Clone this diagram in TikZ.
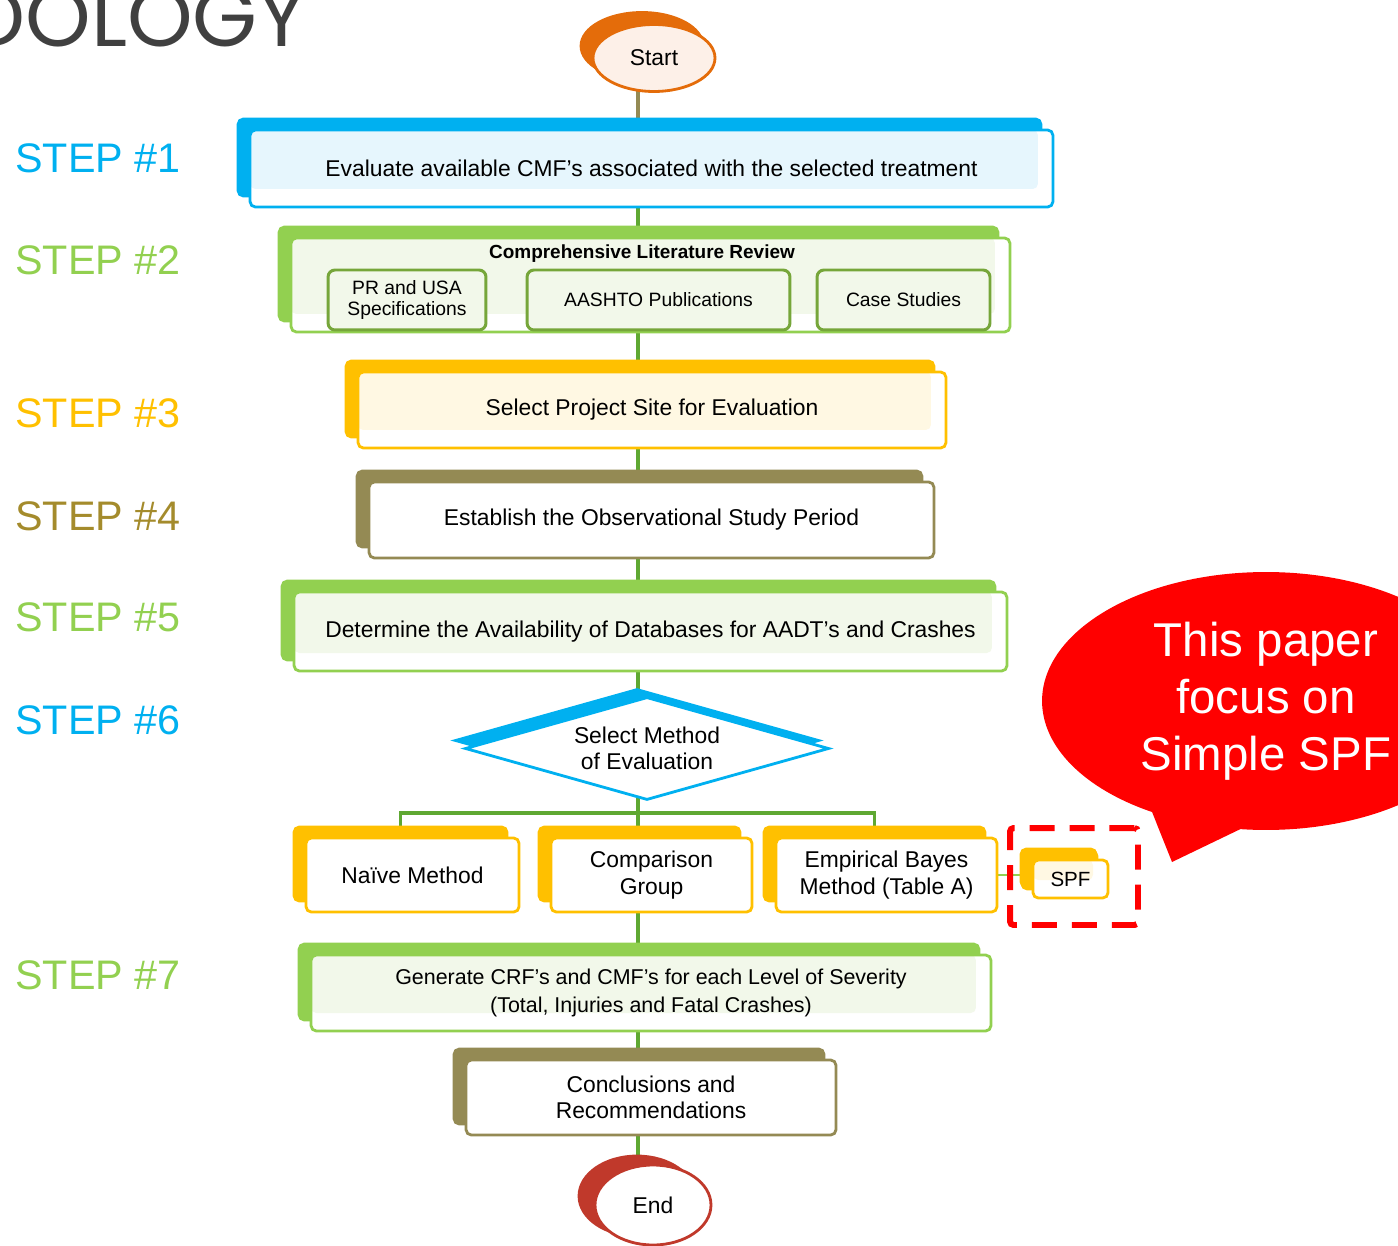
\documentclass[tikz,border=0pt]{standalone}
\usepackage{fontspec}
\setmainfont{Liberation Sans}
\newfontfamily\headfont{Poppins}
\usetikzlibrary{shapes.geometric,shapes.callouts,shadows,backgrounds}
\definecolor{flow blue}{HTML}{00B0F0}
\definecolor{flow green}{HTML}{92D050}
\definecolor{flow yellow}{HTML}{FFC000}
\definecolor{flow khaki}{HTML}{948A54}
\definecolor{flow orange}{HTML}{E46C0A}
\definecolor{flow red}{HTML}{C0392B}
\definecolor{label khaki}{HTML}{A48B2C}
\definecolor{sub green}{HTML}{76A63A}
\definecolor{link green}{HTML}{5FA832}
\definecolor{title gray}{HTML}{404040}
\definecolor{tint blue}{HTML}{E6F6FD}
\definecolor{tint green}{HTML}{F2F8EA}
\definecolor{tint yellow}{HTML}{FFF8E3}
\definecolor{tint orange}{HTML}{FDF0E8}

\begin{document}
\begin{tikzpicture}[x=0.02cm, y=-0.02cm,
    stepbox/.style={rectangle, rounded corners=3pt, draw=#1, line width=1.6pt, fill=white,
      align=center, inner sep=2pt, font=\fontsize{13}{15}\selectfont,
      copy shadow={shadow xshift=-0.24cm, shadow yshift=0.22cm, fill=#1, draw=#1}},
    tinted/.style={path picture={\fill[#1] (path picture bounding box.north west)
      rectangle ([xshift=-0.3cm,yshift=0.36cm]path picture bounding box.south east);}},
    subbox/.style={rectangle, rounded corners=4pt, draw=sub green, line width=1.7pt,
      fill=tint green, align=center, inner sep=1pt, font=\fontsize{11}{12.5}\selectfont},
    steplabel/.style={anchor=west, inner sep=0pt, text=#1, font=\fontsize{23.5}{28}\selectfont},
    terminal/.style={ellipse, draw=#1, line width=1.6pt, inner sep=0pt,
      font=\fontsize{13}{15}\selectfont},
    link/.style={draw=link green, line width=2pt}]
  \useasboundingbox (0,0) rectangle (1398,1246);

  % cut title
  \node[anchor=base east, inner sep=0pt, text=title gray, font=\headfont\fontsize{47.5}{47.5}\selectfont]
    (title) at (307,47) {METHODOLOGY};

  % step labels
  \node[steplabel=flow blue]   (lab1) at (15,158) {STEP \#1};
  \node[steplabel=flow green]  (lab2) at (15,260) {STEP \#2};
  \node[steplabel=flow yellow] (lab3) at (15,413) {STEP \#3};
  \node[steplabel=label khaki] (lab4) at (15,516) {STEP \#4};
  \node[steplabel=flow green]  (lab5) at (15,617) {STEP \#5};
  \node[steplabel=flow blue]   (lab6) at (15,720) {STEP \#6};
  \node[steplabel=flow green]  (lab7) at (15,975) {STEP \#7};

  % start and end
  \node[terminal=flow orange, fill=tint orange, minimum width=2.44cm, minimum height=1.34cm,
    copy shadow={shadow xshift=-0.24cm, shadow yshift=0.24cm, fill=flow orange, draw=flow orange}]
    (start) at (654,58) {Start};

  % the steps
  \node[stepbox=flow blue, tinted=tint blue, minimum width=16.06cm, minimum height=1.54cm]
    (evaluate) at (651.5,168.5) {Evaluate available CMF's associated with the selected treatment};
  \node[stepbox=flow green, tinted=tint green, minimum width=14.38cm, minimum height=1.88cm]
    (review) at (650.5,285) {};
  \node[inner sep=0pt, font=\bfseries\fontsize{10.8}{12}\selectfont] (reviewtitle) at (642,254)
    {Comprehensive Literature Review};
  \node[subbox, minimum width=3.16cm, minimum height=1.2cm] (specs) at (407,300)
    {PR and USA\\Specifications};
  \node[subbox, minimum width=5.26cm, minimum height=1.2cm] (aashto) at (658.5,300)
    {AASHTO Publications};
  \node[subbox, minimum width=3.46cm, minimum height=1.2cm] (cases) at (903.5,300)
    {Case Studies};
  \node[stepbox=flow yellow, tinted=tint yellow, minimum width=11.76cm, minimum height=1.52cm]
    (site) at (652,410) {Select Project Site for Evaluation};
  \node[stepbox=flow khaki, minimum width=11.3cm, minimum height=1.52cm]
    (period) at (651.5,520) {Establish the Observational Study Period};
  \node[stepbox=flow green, tinted=tint green, minimum width=14.26cm, minimum height=1.58cm]
    (data) at (650.5,631.5) {Determine the Availability of Databases for AADT's and Crashes};
  \node[diamond, draw=flow blue, line width=1.6pt, fill=white, align=center, inner sep=0pt,
    shape aspect=3.5, minimum width=7.28cm, minimum height=2.06cm, font=\fontsize{13}{15}\selectfont,
    copy shadow={shadow xshift=-0.2cm, shadow yshift=0.16cm, fill=flow blue, draw=flow blue}]
    (method) at (647,748.5) {Select Method\\of Evaluation};

  % methods
  \node[stepbox=flow yellow, minimum width=4.26cm, minimum height=1.48cm]
    (naive) at (412.5,875) {Naïve Method};
  \node[stepbox=flow yellow, minimum width=4.02cm, minimum height=1.48cm]
    (compare) at (651.5,875) {Comparison\\Group};
  \node[stepbox=flow yellow, minimum width=4.42cm, minimum height=1.48cm]
    (bayes) at (886.5,875) {Empirical Bayes\\Method (Table A)};
  \node[stepbox=flow yellow, tinted=tint yellow, minimum width=1.5cm, minimum height=0.76cm,
    font=\fontsize{11.7}{13}\selectfont,
    copy shadow={shadow xshift=-0.22cm, shadow yshift=0.18cm, fill=flow yellow, draw=flow yellow}]
    (spf) at (1070.5,879) {SPF};
  \node[draw=red, line width=3.4pt, dash pattern=on 0.5cm off 0.3cm, rounded corners=2pt,
    minimum width=2.56cm, minimum height=1.94cm] (spfmark) at (1074,876.5) {};

  \node[stepbox=flow green, tinted=tint green, minimum width=13.6cm, minimum height=1.52cm,
    font=\fontsize{12.2}{15.5}\selectfont]
    (severity) at (651,993) {Generate CRF's and CMF's for each Level of Severity\\(Total, Injuries and Fatal Crashes)};
  \node[stepbox=flow khaki, minimum width=7.4cm, minimum height=1.5cm]
    (conclude) at (651,1097.5) {Conclusions and\\Recommendations};
  \node[terminal=flow red, fill=white, minimum width=2.32cm, minimum height=1.6cm,
    copy shadow={shadow xshift=-0.32cm, shadow yshift=0.18cm, fill=flow red, draw=flow red}]
    (end) at (653,1205) {End};

  % callout
  \node[ellipse callout, fill=red, text=white, align=center, minimum width=8.96cm, minimum height=5.16cm,
    callout absolute pointer={(1172,862)}, callout pointer arc=24,
    font=\fontsize{27}{32.5}\selectfont] (note) at (1266,701) {This paper\\focus on\\Simple SPF};

  % connectors
  \coordinate (spine) at (638,0);
  \coordinate (split) at (638,813);
  \begin{scope}[on background layer]
    \draw[link, draw=flow khaki] (start.center -| spine) -- (evaluate.center -| spine);
    \draw[link] (evaluate.center -| spine) -- (review.center -| spine);
    \draw[link] (review.center -| spine) -- (site.center -| spine);
    \draw[link] (site.center -| spine) -- (period.center -| spine);
    \draw[link] (period.center -| spine) -- (data.center -| spine);
    \draw[link] (data.center -| spine) -- (method.center -| spine);
    \draw[link] (method.center -| spine) -- (split);
    \draw[link] ([xshift=-0.24cm]naive.center) |- (split) -| ([xshift=-0.24cm]bayes.center);
    \draw[link] (split) -- (severity.center -| spine);
    \draw[link] (severity.center -| spine) -- (conclude.center -| spine);
    \draw[link] (conclude.center -| spine) -- (end.center -| spine);
    \draw[draw=flow green, line width=1pt] (bayes.east) -- (bayes.east -| spf.west);
  \end{scope}
\end{tikzpicture}
\end{document}
